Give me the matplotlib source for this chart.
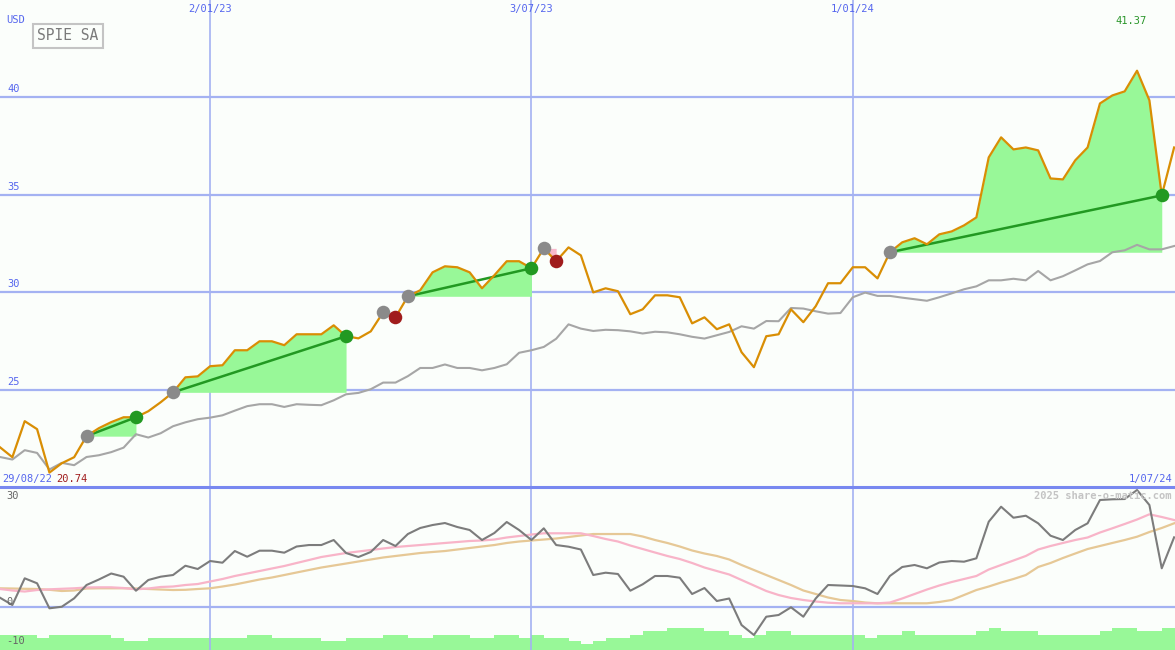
"""
SPIE SA weekly chart with trade signals and oscillator panel
"""

import pandas as pd
import matplotlib
matplotlib.use('Agg')
import matplotlib.pyplot as plt
import matplotlib.transforms as mtransforms

# weekly closes
weeks = pd.date_range('2022-09-05', periods=96, freq='7D')

price = [22.04, 21.53, 23.38, 22.97, 20.74, 21.22, 21.53, 22.61, 23.02, 23.33,
         23.58, 23.58, 23.89, 24.35, 24.86, 25.63, 25.68, 26.20, 26.25, 27.02,
         27.02, 27.48, 27.48, 27.28, 27.84, 27.84, 27.84, 28.30, 27.74, 27.63,
         27.99, 28.97, 28.71, 29.79, 30.10, 31.02, 31.33, 31.28, 31.02, 30.20,
         30.87, 31.59, 31.59, 31.23, 32.25, 31.59, 32.30, 31.89, 29.99, 30.20,
         30.05, 28.87, 29.12, 29.84, 29.84, 29.74, 28.40, 28.71, 28.10, 28.35,
         26.92, 26.15, 27.74, 27.84, 29.12, 28.46, 29.28, 30.46, 30.46, 31.28,
         31.28, 30.71, 32.05, 32.56, 32.77, 32.46, 32.97, 33.12, 33.43, 33.84,
         36.92, 37.95, 37.33, 37.43, 37.28, 35.84, 35.79, 36.77, 37.43, 39.69,
         40.10, 40.31, 41.37, 39.85, 34.97, 37.43]

avg = [21.54, 21.41, 21.89, 21.75, 20.90, 21.24, 21.12, 21.54, 21.63, 21.79,
       22.02, 22.71, 22.54, 22.76, 23.12, 23.32, 23.48, 23.56, 23.68, 23.92,
       24.15, 24.25, 24.25, 24.11, 24.25, 24.22, 24.20, 24.45, 24.76, 24.83,
       25.02, 25.36, 25.36, 25.69, 26.11, 26.11, 26.29, 26.11, 26.11, 25.99,
       26.11, 26.30, 26.89, 27.02, 27.19, 27.61, 28.35, 28.13, 28.01, 28.07,
       28.05, 27.99, 27.88, 27.97, 27.94, 27.84, 27.71, 27.62, 27.79, 27.96,
       28.25, 28.13, 28.52, 28.51, 29.19, 29.16, 29.02, 28.90, 28.93, 29.74,
       29.98, 29.81, 29.81, 29.72, 29.64, 29.56, 29.74, 29.94, 30.15, 30.30,
       30.61, 30.61, 30.69, 30.61, 31.09, 30.61, 30.82, 31.12, 31.43, 31.60,
       32.05, 32.15, 32.43, 32.20, 32.20, 32.37]

# trades: (entry week, exit week)
wins = [(7, 11), (14, 28), (33, 43), (72, 94)]
losses = [(31, 32), (44, 45)]

# oscillator panel
osc = [2.28, 0.49, 7.04, 5.82, -0.32, 0.07, 2.13, 5.40, 6.75, 8.22,
       7.44, 4.00, 6.63, 7.44, 7.85, 10.13, 9.33, 11.29, 10.87, 13.74,
       12.34, 13.82, 13.82, 13.33, 14.85, 15.21, 15.21, 16.44, 13.25, 12.27,
       13.50, 16.44, 14.97, 17.91, 19.39, 20.12, 20.61, 19.63, 18.90, 16.44,
       18.16, 20.86, 18.90, 16.44, 19.31, 15.21, 14.80, 14.11, 7.85, 8.42,
       8.10, 4.00, 5.57, 7.61, 7.61, 7.19, 3.19, 4.66, 1.47, 2.09,
       -4.42, -6.87, -2.38, -1.96, -0.07, -2.38, 2.09, 5.40, 5.28, 5.15,
       4.59, 3.19, 7.61, 9.82, 10.31, 9.50, 10.92, 11.29, 11.12, 11.95,
       20.93, 24.61, 21.91, 22.40, 20.54, 17.50, 16.44, 18.90, 20.54, 26.26,
       26.43, 26.50, 28.71, 25.03, 9.50, 17.10]

osc_fast = [4.42, 4.05, 3.80, 4.17, 4.34, 4.47, 4.59, 4.79, 4.83, 4.83,
            4.66, 4.34, 4.54, 4.91, 5.03, 5.40, 5.64, 6.26, 6.87, 7.61,
            8.22, 8.83, 9.45, 10.06, 10.80, 11.53, 12.27, 12.76, 13.25, 13.62,
            13.99, 14.36, 14.72, 14.97, 15.21, 15.46, 15.71, 15.95, 16.20, 16.32,
            16.56, 17.06, 17.42, 17.79, 18.09, 18.09, 18.09, 18.09, 17.42, 16.69,
            16.07, 15.09, 14.23, 13.37, 12.52, 11.78, 10.80, 9.69, 8.83, 7.98,
            6.63, 5.28, 3.93, 2.94, 2.21, 1.72, 1.35, 1.06, 0.91, 0.91,
            0.91, 0.91, 1.10, 2.09, 3.19, 4.29, 5.28, 6.13, 6.87, 7.61,
            9.20, 10.31, 11.41, 12.52, 14.11, 14.97, 15.71, 16.44, 17.06, 18.28,
            19.31, 20.37, 21.47, 22.75, 22.09, 21.35]

osc_slow = [4.59, 4.54, 4.47, 4.42, 4.22, 3.93, 4.05, 4.54, 4.59, 4.59,
            4.59, 4.54, 4.42, 4.29, 4.17, 4.22, 4.42, 4.59, 5.03, 5.52,
            6.13, 6.75, 7.24, 7.85, 8.47, 9.08, 9.69, 10.18, 10.67, 11.17,
            11.66, 12.15, 12.52, 12.88, 13.25, 13.50, 13.74, 14.11, 14.48, 14.85,
            15.21, 15.71, 16.07, 16.32, 16.56, 16.81, 17.18, 17.55, 17.91, 17.91,
            17.91, 17.91, 17.30, 16.44, 15.71, 14.85, 13.87, 13.13, 12.52, 11.66,
            10.31, 9.08, 7.85, 6.63, 5.40, 4.05, 3.19, 2.33, 1.72, 1.47,
            1.10, 0.91, 0.91, 0.91, 0.91, 0.91, 1.23, 1.72, 2.94, 4.17,
            5.03, 6.01, 6.87, 7.85, 9.82, 10.80, 12.02, 13.13, 14.23, 14.97,
            15.71, 16.44, 17.25, 18.40, 19.39, 20.54]

volume = [5.0, 5.0, 5.0, 4.1, 5.0, 5.0, 5.0, 5.0, 5.0, 4.1,
          3.0, 3.0, 4.1, 4.1, 4.1, 4.1, 4.1, 4.1, 4.1, 4.1,
          5.0, 5.0, 4.1, 4.1, 4.1, 4.1, 3.0, 3.0, 4.1, 4.1,
          4.1, 5.0, 5.0, 4.1, 4.1, 5.0, 5.0, 5.0, 4.1, 4.1,
          5.0, 5.0, 4.1, 5.0, 4.1, 4.1, 3.0, 2.0, 3.0, 4.1,
          4.1, 5.0, 6.3, 6.3, 7.3, 7.3, 7.3, 6.3, 6.3, 5.0,
          4.1, 5.0, 6.3, 6.3, 5.0, 5.0, 5.0, 5.0, 5.0, 5.0,
          4.1, 5.0, 5.0, 6.3, 5.0, 5.0, 5.0, 5.0, 5.0, 6.3,
          7.3, 6.3, 6.3, 6.3, 5.0, 5.0, 5.0, 5.0, 5.0, 6.3,
          7.3, 7.3, 6.3, 6.3, 7.3, 7.3]

grid_dates = ['2023-01-02', '2023-07-03', '2024-01-01']
grid_labels = ['2/01/23', '3/07/23', '1/01/24']
price_levels = [25, 30, 35, 40]

BG = '#fbfefb'
GRID = '#a4b2f2'
BLUE_TXT = '#5566ee'
MONO = 'DejaVu Sans Mono'

W, H = 1175, 650


def fx(px):
    return px / W


def fy(py):
    return 1 - py / H


fig = plt.figure(figsize=(11.75, 6.5), dpi=100, facecolor=BG)
split = 487
ax = fig.add_axes([0, fy(split), 1, split / H], facecolor=BG)
ax2 = fig.add_axes([0, 0, 1, fy(split)], facecolor=BG)

xmax = weeks[-1] + pd.Timedelta(hours=12)
for a in (ax, ax2):
    a.set_xlim(weeks[0], xmax)
    a.set_xticks([])
    a.set_yticks([])
    for s in a.spines.values():
        s.set_visible(False)
    for d in grid_dates:
        a.axvline(pd.Timestamp(d), color=GRID, lw=1.2, zorder=1)

# ---- upper panel ----
ax.set_ylim(20, 45)
for lv in price_levels:
    ax.axhline(lv, color=GRID, lw=1.6, zorder=1)

for i0, i1 in wins:
    base = price[i0]
    xs = weeks[i0:i1 + 1]
    ys = price[i0:i1 + 1]
    ax.fill_between(xs, ys, base, where=[v >= base for v in ys], interpolate=True,
                    color='#98f898', lw=0, zorder=2)
    ax.plot([weeks[i0], weeks[i1]], [price[i0], price[i1]], color='#229922', lw=1.8, zorder=4)

for i0, i1 in losses:
    base = price[i0]
    xs = weeks[i0:i1 + 1]
    ys = price[i0:i1 + 1]
    ax.fill_between(xs, ys, base, where=[v <= base for v in ys], interpolate=True,
                    color='#f8b8cc', lw=0, zorder=2)

ax.plot(weeks, avg, color='#a6a6a6', lw=1.5, zorder=3)
ax.plot(weeks, price, color='#d98e04', lw=1.6, zorder=5)

entries = [t[0] for t in wins + losses]
ax.scatter([weeks[i] for i in entries], [price[i] for i in entries], s=95,
           color='#8a8a8a', lw=0, zorder=6)
ax.scatter([weeks[t[1]] for t in wins], [price[t[1]] for t in wins], s=95,
           color='#229922', lw=0, zorder=6)
ax.scatter([weeks[t[1]] for t in losses], [price[t[1]] for t in losses], s=95,
           color='#a01c1c', lw=0, zorder=6)

lbl = mtransforms.blended_transform_factory(ax.transAxes, ax.transData)
for lv in price_levels:
    ax.text(fx(7), lv + 0.15, str(lv), transform=lbl, fontsize=7.5, family=MONO,
            color=BLUE_TXT, va='bottom', ha='left')

top = mtransforms.blended_transform_factory(ax.transData, ax.transAxes)
for d, t in zip(grid_dates, grid_labels):
    ax.text(pd.Timestamp(d), 1 - 9 / split, t, transform=top, fontsize=7.5, family=MONO,
            color=BLUE_TXT, ha='center', va='center')

# ---- lower panel ----
ax2.set_ylim(-10.55, 29.45)
ax2.axhline(0, color=GRID, lw=1.6, zorder=1)
vax = ax2.twinx()
vax.set_ylim(0, 54.3)
vax.set_yticks([])
for s in vax.spines.values():
    s.set_visible(False)
vax.bar(weeks, volume, width=7, align='edge', color='#98f898', lw=0, zorder=1)
ax2.set_zorder(vax.get_zorder() + 1)
ax2.patch.set_visible(False)

ax2.plot(weeks, osc_slow, color='#e6c896', lw=1.6, zorder=3)
ax2.plot(weeks, osc_fast, color='#f8b4c8', lw=1.6, zorder=3)
ax2.plot(weeks, osc, color='#7c7c7c', lw=1.5, zorder=4)

# panel separator
fig.add_artist(plt.Line2D([0, 1], [fy(split), fy(split)], color='#7888f0', lw=2.2))

# ---- texts ----
fig.text(fx(6), fy(20), 'USD', fontsize=7.5, family=MONO, color=BLUE_TXT, va='center')
fig.text(fx(68), fy(36), 'SPIE SA', fontsize=10.5, family=MONO, color='#7a7a7a',
         ha='center', va='center',
         bbox=dict(boxstyle='square,pad=0.3', fc=BG, ec='#c4c4c4', lw=1.5))
fig.text(fx(1131), fy(21), f'{max(price):.2f}', fontsize=7.5, family=MONO,
         color='#2a962a', ha='center', va='center')
fig.text(fx(2), fy(479), weeks[0].strftime('29/08/22'), fontsize=7.5, family=MONO,
         color=BLUE_TXT, va='center')
fig.text(fx(56), fy(479), f'{min(price):.2f}', fontsize=7.5, family=MONO,
         color='#a01c1c', va='center')
fig.text(fx(1172), fy(479), '1/07/24', fontsize=7.5, family=MONO, color=BLUE_TXT,
         ha='right', va='center')
fig.text(fx(1172), fy(496), '2025 share-o-matic.com', fontsize=7.5, family=MONO,
         color='#c4c4c4', ha='right', va='center', fontweight='bold')
for t, py in [('30', 496), ('0', 602), ('-10', 641)]:
    fig.text(fx(6), fy(py), t, fontsize=7.5, family=MONO, color='#666666', va='center')

plt.savefig('out.png', dpi=100, facecolor=BG)
